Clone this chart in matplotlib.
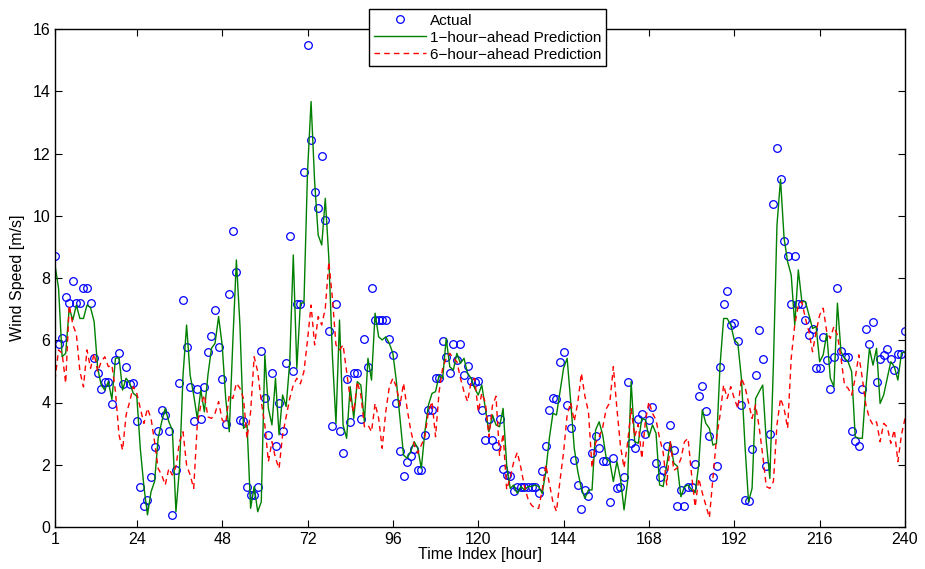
import numpy as np
import matplotlib
matplotlib.use("Agg")
from matplotlib import pyplot as plt

# hourly wind speed (t = 1..240)
hours = np.arange(1, 241)

actual = [
    8.7, 5.88, 6.08, 7.39, 7.2, 7.9, 7.2, 7.2, 7.68, 7.68,
    7.2, 5.44, 4.96, 4.44, 4.67, 4.67, 3.95, 5.37, 5.6, 4.59,
    5.13, 4.59, 4.62, 3.4, 1.3, 0.67, 0.87, 1.62, 2.58, 3.09,
    3.76, 3.6, 3.09, 0.4, 1.83, 4.62, 7.3, 5.77, 4.51, 3.4,
    4.42, 3.47, 4.51, 5.62, 6.14, 6.97, 5.77, 4.77, 3.3, 7.49,
    9.52, 8.19, 3.44, 3.4, 1.3, 1.03, 1.04, 1.3, 5.65, 4.16,
    2.97, 4.95, 2.59, 3.99, 3.09, 5.28, 9.36, 5.01, 7.18, 7.18,
    11.41, 15.5, 12.43, 10.75, 10.24, 11.91, 9.86, 6.3, 3.25, 7.18,
    3.09, 2.39, 4.77, 3.37, 4.95, 4.95, 3.48, 6.04, 5.13, 7.68,
    6.65, 6.65, 6.65, 6.65, 6.04, 5.53, 3.99, 2.44, 1.63, 2.1,
    2.29, 2.5, 1.83, 1.83, 2.97, 3.76, 3.76, 4.78, 4.78, 5.98,
    5.46, 4.96, 5.88, 5.37, 5.88, 4.87, 5.16, 4.69, 4.65, 4.69,
    3.75, 2.78, 3.48, 2.78, 2.59, 3.48, 1.85, 1.67, 1.63, 1.15,
    1.3, 1.3, 1.3, 1.3, 1.3, 1.3, 1.1, 1.81, 2.59, 3.76,
    4.16, 4.1, 5.3, 5.63, 3.92, 3.19, 2.15, 1.35, 0.59, 1.19,
    1.01, 2.39, 2.93, 2.55, 2.12, 2.12, 0.8, 2.21, 1.24, 1.3,
    1.62, 4.67, 2.69, 2.55, 3.48, 3.62, 3.0, 3.45, 3.84, 2.05,
    1.62, 1.82, 2.59, 3.27, 2.47, 0.67, 1.19, 0.67, 1.3, 1.3,
    2.01, 4.22, 4.53, 3.73, 2.92, 1.62, 1.96, 5.13, 7.18, 7.57,
    6.49, 6.56, 5.98, 3.92, 0.87, 0.84, 2.5, 4.88, 6.33, 5.39,
    1.96, 2.98, 10.37, 12.19, 11.17, 9.2, 8.71, 7.18, 8.71, 7.18,
    7.18, 6.66, 6.17, 6.36, 5.1, 5.1, 6.09, 5.37, 4.44, 5.45,
    7.68, 5.65, 5.45, 5.45, 3.09, 2.76, 2.59, 4.44, 6.37, 5.87,
    6.6, 4.65, 5.39, 5.52, 5.72, 5.39, 5.03, 5.55, 5.55, 6.3,
]

pred_1h = [
    8.42, 7.67, 5.47, 5.58, 7.03, 6.65, 7.13, 6.7, 6.7, 7.13,
    7.05, 6.6, 5.1, 4.56, 4.4, 4.67, 4.1, 5.42, 5.45, 4.4,
    4.78, 4.62, 4.3, 4.2, 2.5, 1.3, 0.39, 1.13, 1.46, 2.85,
    3.38, 3.81, 3.38, 3.12, 0.49, 1.88, 4.88, 6.49, 4.88, 4.24,
    3.49, 4.4, 3.7, 4.88, 5.74, 5.9, 6.76, 5.85, 4.13, 3.06,
    5.95, 8.58, 6.49, 3.17, 3.28, 0.6, 1.3, 0.49, 0.81, 5.53,
    3.81, 3.28, 4.78, 2.96, 4.24, 3.87, 5.3, 8.74, 5.1, 7.19,
    7.2, 11.4, 13.67, 11.1, 9.38, 9.06, 10.56, 8.63, 5.5, 3.33,
    6.65, 3.28, 2.85, 4.51, 3.49, 4.67, 4.56, 3.38, 5.42, 4.72,
    6.87, 6.11, 6.01, 6.11, 5.9, 5.58, 4.67, 3.49, 2.31, 2.21,
    2.42, 2.74, 2.53, 1.88, 3.06, 3.92, 4.29, 4.35, 4.88, 4.78,
    6.06, 5.15, 5.04, 5.58, 5.26, 5.42, 4.94, 4.78, 4.46, 4.24,
    4.56, 3.81, 3.06, 3.6, 3.28, 3.22, 3.81, 1.99, 1.24, 1.35,
    1.08, 1.3, 1.19, 1.3, 1.3, 1.35, 1.3, 1.08, 1.78, 2.85,
    3.65, 3.6, 4.35, 5.1, 5.42, 4.03, 2.53, 1.78, 1.24, 0.92,
    1.19, 1.19, 3.12, 3.38, 2.96, 2.21, 2.1, 1.46, 2.1, 1.56,
    0.55, 1.46, 4.67, 2.74, 2.69, 3.49, 3.44, 2.9, 3.28, 3.01,
    1.35, 1.3, 1.99, 2.74, 2.05, 1.95, 0.97, 1.3, 1.35, 1.2,
    1.1, 2.0, 3.76, 3.33, 3.17, 2.63, 2.69, 5.2, 6.7, 6.7,
    6.49, 6.01, 5.9, 4.78, 2.63, 0.81, 1.24, 4.13, 4.35, 4.56,
    2.74, 1.56, 5.23, 9.7, 11.17, 9.28, 8.52, 8.1, 6.49, 8.26,
    7.24, 7.24, 6.81, 6.38, 6.44, 5.31, 5.53, 6.22, 4.78, 4.51,
    7.19, 5.63, 5.42, 5.31, 4.99, 2.9, 2.85, 2.85, 4.46, 5.74,
    5.2, 5.74, 3.97, 4.24, 4.78, 5.31, 5.15, 4.72, 5.58, 5.63,
]

pred_6h = [
    4.72, 5.69, 5.58, 4.62, 7.13, 6.5, 6.2, 5.0, 4.5, 5.69,
    5.1, 5.58, 4.99, 5.31, 5.47, 5.15, 5.2, 4.35, 2.96, 2.47,
    3.6, 4.03, 4.51, 4.29, 3.81, 3.33, 3.81, 3.49, 2.74, 1.88,
    1.67, 1.35, 1.88, 1.67, 1.94, 2.74, 3.06, 1.99, 1.67, 1.24,
    3.28, 3.92, 4.24, 3.54, 3.49, 3.65, 4.03, 3.44, 3.33, 4.24,
    4.13, 4.62, 4.46, 4.13, 2.85, 3.7, 5.47, 4.99, 4.03, 3.28,
    2.1, 2.74, 2.21, 1.88, 2.96, 3.54, 4.13, 4.56, 4.78, 4.6,
    5.0, 6.0, 7.13, 5.85, 6.76, 6.49, 7.03, 8.52, 7.35, 5.85,
    5.69, 5.85, 4.99, 4.13, 3.7, 4.67, 4.24, 3.22, 3.28, 3.06,
    3.97, 3.49, 2.53, 3.7, 4.5, 4.78, 4.5, 3.9, 4.62, 3.81,
    3.12, 2.63, 2.37, 2.63, 2.9, 3.7, 4.03, 2.9, 4.35, 5.1,
    5.42, 5.58, 5.42, 5.31, 4.78, 4.35, 4.03, 4.67, 4.78, 3.7,
    4.3, 4.0, 2.9, 3.9, 4.2, 2.3, 3.0, 1.2, 1.6, 2.1,
    2.4, 1.9, 1.3, 0.9, 0.7, 0.6, 0.6, 1.2, 2.0, 1.4,
    0.8, 0.5, 1.5, 2.4, 3.6, 4.0, 3.4, 4.0, 4.94, 4.2,
    3.7, 1.9, 2.7, 2.9, 3.2, 3.8, 4.0, 5.15, 3.8, 2.6,
    1.9, 2.7, 3.8, 2.9, 3.3, 2.2, 3.4, 4.03, 3.65, 3.44,
    2.85, 2.4, 1.35, 2.74, 1.82, 1.9, 2.2, 2.74, 2.85, 1.67,
    0.65, 1.56, 1.1, 0.7, 0.3, 1.56, 2.85, 3.6, 4.56, 4.13,
    4.51, 4.13, 3.81, 4.78, 4.51, 4.0, 3.49, 3.92, 3.2, 2.3,
    1.3, 1.24, 1.46, 3.28, 4.13, 3.81, 3.17, 5.42, 6.49, 7.13,
    7.24, 6.7, 6.27, 5.63, 6.27, 6.81, 7.03, 6.27, 6.06, 6.44,
    6.17, 5.42, 4.56, 4.46, 4.24, 4.78, 5.53, 4.78, 3.92, 3.49,
    3.28, 3.38, 2.74, 3.33, 3.22, 2.69, 3.12, 2.1, 2.96, 3.49,
]

xticks = [1, 24, 48, 72, 96, 120, 144, 168, 192, 216, 240]
yticks = list(range(0, 17, 2))

plt.rcParams['font.family'] = ['Liberation Sans', 'DejaVu Sans']

fig = plt.figure(figsize=(9.25, 5.69), dpi=100)
ax = fig.add_axes([55 / 925, 42 / 569, 850 / 925, 498 / 569])

ax.plot(hours, actual, 'o', color='blue', mfc='none', ms=5.5, mew=0.9, label='Actual')
ax.plot(hours, pred_1h, '-', color=(0, 0.5, 0), lw=1.0, label='1\u2212hour\u2212ahead Prediction')
ax.plot(hours, pred_6h, '--', color='red', lw=1.0, dashes=(4, 3), label='6\u2212hour\u2212ahead Prediction')

ax.set_xlim(1, 240)
ax.set_ylim(0, 16)
ax.set_xticks(xticks)
ax.set_yticks(yticks)
ax.tick_params(direction='in', top=True, right=True, length=5, width=0.8, labelsize=11.5)
for s in ax.spines.values():
    s.set_linewidth(1.0)

ax.set_xlabel('Time Index [hour]', fontsize=11.5, labelpad=0)
ax.set_ylabel('Wind Speed [m/s]', fontsize=11.5, labelpad=5)

leg = ax.legend(loc='upper center', bbox_to_anchor=(0.527, 0.984), bbox_transform=fig.transFigure,
                fontsize=11, fancybox=False, edgecolor='black', framealpha=1, handlelength=3.4,
                handletextpad=0.25, borderpad=0.3, labelspacing=0.2, borderaxespad=0)
leg.get_frame().set_linewidth(1.0)

fig.savefig('out.png', dpi=100)
